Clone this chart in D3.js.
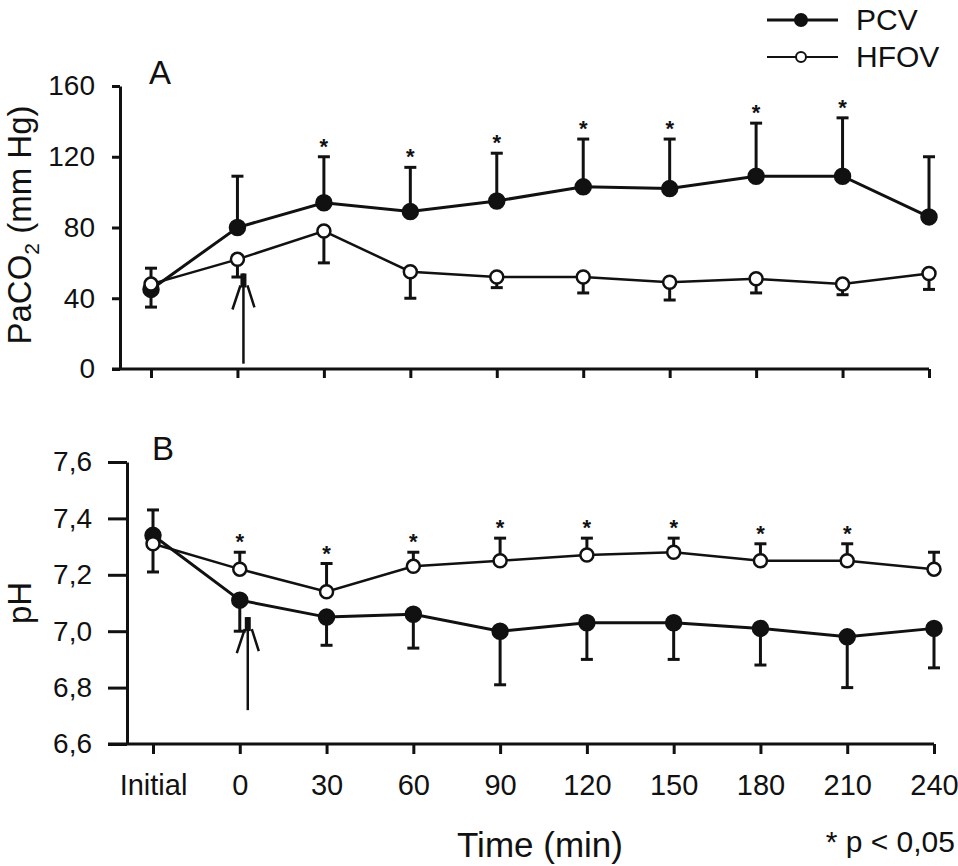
<!DOCTYPE html>
<html>
<head>
<meta charset="utf-8">
<script src="https://cdn.jsdelivr.net/npm/d3@7"></script>
<style>
  body { margin: 0; background: #fff; }
  text { font-family: "Liberation Sans", Arial, sans-serif; fill: #111; }
</style>
</head>
<body>
<div class="board"></div>
<script>

var categories = ['Initial', '0', '30', '60', '90', '120', '150', '180', '210', '240'];

// panel A - PaCO2 (mm Hg)
var pco2Pcv = [45, 80, 94, 89, 95, 103, 102, 109, 109, 86];
var pco2PcvSd = [12, 29, 26, 25, 27, 27, 28, 30, 33, 34];
var pco2Hfov = [48, 62, 78, 55, 52, 52, 49, 51, 48, 54];
var pco2HfovSd = [13, 10, 18, 15, 6, 9, 10, 8, 6, 9];
var pco2Sig = [false, false, true, true, true, true, true, true, true, false];
var pco2Ticks = [0, 40, 80, 120, 160];

// panel B - pH
var phPcv = [7.34, 7.11, 7.05, 7.06, 7.00, 7.03, 7.03, 7.01, 6.98, 7.01];
var phPcvSd = [0.13, 0.11, 0.10, 0.12, 0.19, 0.13, 0.13, 0.13, 0.18, 0.14];
var phHfov = [7.31, 7.22, 7.14, 7.23, 7.25, 7.27, 7.28, 7.25, 7.25, 7.22];
var phHfovSd = [0.12, 0.06, 0.10, 0.05, 0.08, 0.06, 0.05, 0.06, 0.06, 0.06];
var phSig = [false, true, true, true, true, true, true, true, true, false];
var phTicks = [6.6, 6.8, 7.0, 7.2, 7.4, 7.6];

var svg = d3.select('.board').append('svg')
            .attr('width', 958)
            .attr('height', 866);

var commaFormat = function(d) { return d3.format('.1f')(d).replace('.', ','); };

var drawPanel = function(p) {
  var g = svg.append('g');

  // y axis
  var yAxis = d3.axisLeft(p.y)
                .tickValues(p.ticks)
                .tickSize(p.yTick)
                .tickSizeOuter(0)
                .tickPadding(p.yPad)
                .tickFormat(p.fmt);
  var ya = g.append('g')
            .attr('transform', 'translate(' + p.axisX + ',0)')
            .call(yAxis);
  ya.select('.domain').attr('stroke-width', 3).attr('stroke', '#111');
  ya.selectAll('.tick line').attr('stroke-width', 3).attr('stroke', '#111');
  ya.selectAll('text').style('font-size', '28px').attr('fill', '#111');

  // x axis
  var xAxis = d3.axisBottom(p.x)
                .tickSize(p.xTick)
                .tickSizeOuter(0)
                .tickPadding(20)
                .tickFormat(p.xLabels ? null : '');
  var xa = g.append('g')
            .attr('transform', 'translate(0,' + p.y.range()[0] + ')')
            .call(xAxis);
  xa.select('.domain').remove();
  xa.selectAll('.tick line').attr('stroke-width', 3).attr('stroke', '#111');
  xa.selectAll('text').style('font-size', '29px').attr('fill', '#111');
  g.append('line')
   .attr('x1', p.axisX - p.yTick)
   .attr('x2', p.x(categories[categories.length - 1]))
   .attr('y1', p.y.range()[0])
   .attr('y2', p.y.range()[0])
   .attr('stroke', '#111')
   .attr('stroke-width', 3);

  p.series.forEach(function(s) {
    var pts = categories.map(function(c, i) {
      return {c: c, v: s.values[i], e: s.values[i] + s.dir * s.sd[i]};
    });

    // error bars
    g.selectAll(null)
     .data(pts)
     .enter()
     .append('line')
     .attr('x1', function(d) { return p.x(d.c); })
     .attr('x2', function(d) { return p.x(d.c); })
     .attr('y1', function(d) { return p.y(d.v); })
     .attr('y2', function(d) { return p.y(d.e); })
     .attr('stroke', '#111')
     .attr('stroke-width', 3);
    g.selectAll(null)
     .data(pts)
     .enter()
     .append('line')
     .attr('x1', function(d) { return p.x(d.c) - 6; })
     .attr('x2', function(d) { return p.x(d.c) + 6; })
     .attr('y1', function(d) { return p.y(d.e); })
     .attr('y2', function(d) { return p.y(d.e); })
     .attr('stroke', '#111')
     .attr('stroke-width', 3);

    var line = d3.line()
                 .x(function(d) { return p.x(d.c); })
                 .y(function(d) { return p.y(d.v); });
    g.append('path')
     .datum(pts)
     .attr('d', line)
     .attr('fill', 'none')
     .attr('stroke', '#111')
     .attr('stroke-width', s.width);

    s.pts = pts;
  });

  // arrow at time 0
  var ax = p.x('0') + p.arrowDx;
  g.append('line')
   .attr('x1', ax).attr('x2', ax)
   .attr('y1', p.y(p.arrow[0])).attr('y2', p.y(p.arrow[1]))
   .attr('stroke', '#111').attr('stroke-width', 2.5);
  g.append('line')
   .attr('x1', ax).attr('x2', ax)
   .attr('y1', p.y(p.arrow[1]) + 14).attr('y2', p.y(p.arrow[1]))
   .attr('stroke', '#111').attr('stroke-width', 6);
  g.append('path')
   .attr('d', 'M' + (ax - 11) + ',' + (p.y(p.arrow[1]) + 36) +
              'L' + (ax - 3) + ',' + (p.y(p.arrow[1]) + 12) +
              'M' + (ax + 11) + ',' + (p.y(p.arrow[1]) + 34) +
              'L' + (ax + 4) + ',' + (p.y(p.arrow[1]) + 12))
   .attr('fill', 'none')
   .attr('stroke', '#111').attr('stroke-width', 2.5);

  // markers
  p.series.forEach(function(s) {
    g.selectAll(null)
     .data(s.pts)
     .enter()
     .append('circle')
     .attr('cx', function(d) { return p.x(d.c); })
     .attr('cy', function(d) { return p.y(d.v); })
     .attr('r', s.filled ? 7.5 : 6.5)
     .attr('fill', s.filled ? '#111' : '#fff')
     .attr('stroke', '#111')
     .attr('stroke-width', 2.5);
  });

  // significance stars above the upper bar
  var up = p.series.filter(function(s) { return s.dir > 0; })[0];
  g.selectAll(null)
   .data(up.pts.filter(function(d, i) { return p.sig[i]; }))
   .enter()
   .append('text')
   .attr('x', function(d) { return p.x(d.c); })
   .attr('y', function(d) { return p.y(d.e) - 3; })
   .attr('text-anchor', 'middle')
   .style('font-size', '22px')
   .style('font-weight', 'bold')
   .text('*');

  g.append('text')
   .attr('x', p.labelX)
   .attr('y', p.labelY)
   .style('font-size', '33px')
   .text(p.label);
};

var xTop = d3.scalePoint().domain(categories).range([151, 929]);
var yTop = d3.scaleLinear().domain([0, 160]).range([369, 86]);
var xBot = d3.scalePoint().domain(categories).range([153, 934]);
var yBot = d3.scaleLinear().domain([6.6, 7.6]).range([744, 462]);

drawPanel({
  x: xTop, y: yTop, axisX: 120, yTick: 8, yPad: 17, xTick: 9, xLabels: false,
  ticks: pco2Ticks, fmt: d3.format('d'), sig: pco2Sig,
  arrow: [3, 54], arrowDx: 6,
  label: 'A', labelX: 149, labelY: 84,
  series: [
    {values: pco2Pcv, sd: pco2PcvSd, dir: 1, filled: true, width: 3},
    {values: pco2Hfov, sd: pco2HfovSd, dir: -1, filled: false, width: 2.5}
  ]
});

drawPanel({
  x: xBot, y: yBot, axisX: 127, yTick: 19, yPad: 16, xTick: 10, xLabels: true,
  ticks: phTicks, fmt: commaFormat, sig: phSig,
  arrow: [6.72, 7.05], arrowDx: 8,
  label: 'B', labelX: 152, labelY: 460,
  series: [
    {values: phPcv, sd: phPcvSd, dir: -1, filled: true, width: 3},
    {values: phHfov, sd: phHfovSd, dir: 1, filled: false, width: 2.5}
  ]
});

// axis titles
var yt = svg.append('text')
            .attr('transform', 'translate(31,225) rotate(-90)')
            .attr('text-anchor', 'middle')
            .style('font-size', '33px');
yt.append('tspan').text('PaCO');
yt.append('tspan').attr('dy', 8).style('font-size', '21px').text('2');
yt.append('tspan').attr('dy', -8).text(' (mm Hg)');

svg.append('text')
   .attr('transform', 'translate(31,603) rotate(-90)')
   .attr('text-anchor', 'middle')
   .style('font-size', '33px')
   .text('pH');

svg.append('text')
   .attr('x', 540).attr('y', 857)
   .attr('text-anchor', 'middle')
   .style('font-size', '35px')
   .text('Time (min)');

svg.append('text')
   .attr('x', 955).attr('y', 852)
   .attr('text-anchor', 'end')
   .style('font-size', '30px')
   .text('* p < 0,05');

// legend
var legend = [
  {name: 'PCV', filled: true, width: 3},
  {name: 'HFOV', filled: false, width: 2}
];
var lg = svg.selectAll('.legend')
            .data(legend)
            .enter()
            .append('g')
            .attr('class', 'legend')
            .attr('transform', function(d, i) { return 'translate(767,' + (20 + i * 37) + ')'; });
lg.append('line')
  .attr('x1', 0).attr('x2', 71)
  .attr('stroke', '#111')
  .attr('stroke-width', function(d) { return d.width; });
lg.append('circle')
  .attr('cx', 34)
  .attr('r', function(d) { return d.filled ? 6 : 5; })
  .attr('fill', function(d) { return d.filled ? '#111' : '#fff'; })
  .attr('stroke', '#111')
  .attr('stroke-width', 2);
lg.append('text')
  .attr('x', 89).attr('y', 10)
  .style('font-size', '30px')
  .text(function(d) { return d.name; });

</script>
</body>
</html>
